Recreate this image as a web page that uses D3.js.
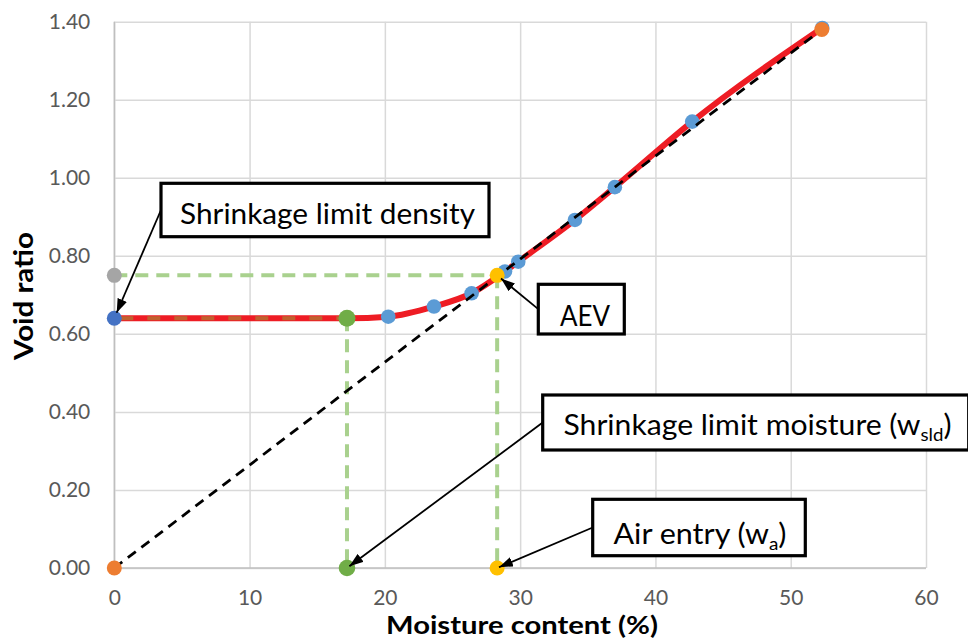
<!DOCTYPE html>
<html>
<head>
<meta charset="utf-8">
<script src="https://cdn.jsdelivr.net/npm/d3@7"></script>
<style>
  html, body { margin: 0; padding: 0; background: #fff; }
  svg { display: block; font-family: Lato, "Noto Sans", sans-serif; }
</style>
</head>
<body>
<svg id="chart" width="968" height="641"></svg>
<script>
// Shrinkage curve: void ratio against moisture content
const measuredMoisture = [20.25, 23.63, 26.41, 28.88, 29.86, 34.05, 37.0, 42.72, 52.33];
const measuredVoid     = [0.644, 0.670, 0.704, 0.760, 0.785, 0.892, 0.976, 1.144, 1.384];

// fitted shrinkage curve (flat residual zone, then normal shrinkage)
const fitMoisture = [0, 17.2, 20.25, 23.63, 26.41, 28.88, 29.86, 34.05, 37.0, 42.72, 52.33];
const fitVoid     = [0.64, 0.64, 0.644, 0.670, 0.704, 0.760, 0.785, 0.892, 0.976, 1.144, 1.384];

// 100% saturation line (origin to the initial state)
const saturationMoisture = [0, 52.3];
const saturationVoid     = [0, 1.38];

// characteristic points
const shrinkageLimitMoisture = 17.2;
const shrinkageLimitVoid = 0.64;
const airEntryMoisture = 28.3;
const airEntryVoid = 0.75;

const xTicks = [0, 10, 20, 30, 40, 50, 60];
const yTicks = [0, 0.2, 0.4, 0.6, 0.8, 1.0, 1.2, 1.4];

const svg = d3.select("#chart");
const m = { left: 114.3, right: 926, top: 21.7, bottom: 568 };
const x = d3.scaleLinear().domain([0, 60]).range([m.left, m.right]);
const y = d3.scaleLinear().domain([0, 1.4]).range([m.bottom, m.top]);

// gridlines
svg.append("g").attr("transform", `translate(0,${m.bottom})`)
  .call(d3.axisBottom(x).tickValues(xTicks).tickSize(-(m.bottom - m.top)).tickFormat(""))
  .call(g => g.select(".domain").remove())
  .call(g => g.selectAll("line").attr("stroke", "#d9d9d9").attr("stroke-width", 1.5));
svg.append("g").attr("transform", `translate(${m.left},0)`)
  .call(d3.axisLeft(y).tickValues(yTicks).tickSize(-(m.right - m.left)).tickFormat(""))
  .call(g => g.select(".domain").remove())
  .call(g => g.selectAll("line").attr("stroke", "#d9d9d9").attr("stroke-width", 1.5));

// axis lines
svg.append("line").attr("x1", x(0)).attr("x2", x(0)).attr("y1", y(0)).attr("y2", y(1.4))
  .attr("stroke", "#bfbfbf").attr("stroke-width", 1.5);
svg.append("line").attr("x1", x(0)).attr("x2", x(60)).attr("y1", y(0)).attr("y2", y(0))
  .attr("stroke", "#bfbfbf").attr("stroke-width", 1.5);

// tick labels
svg.append("g").attr("transform", `translate(${m.left},0)`)
  .call(d3.axisLeft(y).tickValues(yTicks).tickSize(0).tickPadding(24).tickFormat(d3.format(".2f")))
  .call(g => g.select(".domain").remove())
  .call(g => g.selectAll("text").attr("fill", "#595959").attr("font-size", 21).attr("font-family", "Lato, sans-serif"));
svg.append("g").attr("transform", `translate(0,${m.bottom})`)
  .call(d3.axisBottom(x).tickValues(xTicks).tickSize(0).tickPadding(22).tickFormat(d3.format("d")))
  .call(g => g.select(".domain").remove())
  .call(g => g.selectAll("text").attr("fill", "#595959").attr("font-size", 21).attr("font-family", "Lato, sans-serif"));

// axis titles
svg.append("text").attr("x", 522).attr("y", 634).attr("text-anchor", "middle")
  .attr("font-size", 25).attr("font-weight", "bold").attr("fill", "#000")
  .attr("textLength", 272).attr("lengthAdjust", "spacingAndGlyphs")
  .text("Moisture content (%)");
svg.append("text").attr("transform", "translate(33,296) rotate(-90)").attr("text-anchor", "middle")
  .attr("font-size", 27).attr("font-weight", "bold").attr("fill", "#000")
  .attr("textLength", 128).attr("lengthAdjust", "spacingAndGlyphs")
  .text("Void ratio");

// guide lines (light green dashed)
const guide = svg.append("g").attr("stroke", "#a9d18e").attr("stroke-width", 4)
  .attr("stroke-dasharray", "13 8").attr("fill", "none");
guide.append("line").attr("x1", x(0)).attr("x2", x(airEntryMoisture))
  .attr("y1", y(airEntryVoid)).attr("y2", y(airEntryVoid));
guide.append("line").attr("x1", x(shrinkageLimitMoisture)).attr("x2", x(shrinkageLimitMoisture))
  .attr("y1", y(shrinkageLimitVoid)).attr("y2", y(0));
guide.append("line").attr("x1", x(airEntryMoisture)).attr("x2", x(airEntryMoisture))
  .attr("y1", y(airEntryVoid)).attr("y2", y(0));

// fitted shrinkage curve
const fit = fitMoisture.map((d, i) => [d, fitVoid[i]]);
svg.append("path").datum(fit)
  .attr("d", d3.line().x(d => x(d[0])).y(d => y(d[1])).curve(d3.curveMonotoneX))
  .attr("fill", "none").attr("stroke", "#ee1c24").attr("stroke-width", 6);

// residual shrinkage plateau
svg.append("line").attr("x1", x(0)).attr("x2", x(shrinkageLimitMoisture))
  .attr("y1", y(shrinkageLimitVoid)).attr("y2", y(shrinkageLimitVoid))
  .attr("stroke", "#c0612e").attr("stroke-width", 4).attr("stroke-dasharray", "13 14")
  .attr("stroke-dashoffset", -6);

// measured points
svg.append("g").selectAll("circle")
  .data(measuredMoisture.map((d, i) => [d, measuredVoid[i]]))
  .join("circle").attr("cx", d => x(d[0])).attr("cy", d => y(d[1])).attr("r", 7.3)
  .attr("fill", "#5b9bd5");

// saturation line
const sat = saturationMoisture.map((d, i) => [d, saturationVoid[i]]);
svg.append("path").datum(sat)
  .attr("d", d3.line().x(d => x(d[0])).y(d => y(d[1])))
  .attr("fill", "none").attr("stroke", "#000").attr("stroke-width", 2.8).attr("stroke-dasharray", "10 7");

// characteristic markers
const markers = [
  { mx: 0, my: airEntryVoid, color: "#a5a5a5", r: 7.5 },
  { mx: 0, my: shrinkageLimitVoid, color: "#4472c4", r: 7.5 },
  { mx: saturationMoisture[0], my: saturationVoid[0], color: "#ed7d31", r: 7.5 },
  { mx: saturationMoisture[1], my: saturationVoid[1], color: "#ed7d31", r: 7.5 },
  { mx: shrinkageLimitMoisture, my: shrinkageLimitVoid, color: "#70ad47", r: 8.5 },
  { mx: shrinkageLimitMoisture, my: 0, color: "#70ad47", r: 8.3 },
  { mx: airEntryMoisture, my: airEntryVoid, color: "#ffc000", r: 7.5 },
  { mx: airEntryMoisture, my: 0, color: "#ffc000", r: 7.5 }
];
svg.append("g").selectAll("circle").data(markers).join("circle")
  .attr("cx", d => x(d.mx)).attr("cy", d => y(d.my)).attr("r", d => d.r).attr("fill", d => d.color);

// callouts
svg.append("defs").append("marker").attr("id", "head")
  .attr("viewBox", "0 0 14 10").attr("refX", 14).attr("refY", 5)
  .attr("markerWidth", 14).attr("markerHeight", 10).attr("markerUnits", "userSpaceOnUse")
  .attr("orient", "auto")
  .append("path").attr("d", "M0,0 L14,5 L0,10 Z").attr("fill", "#000");

const callouts = [
  { box: [161, 183.3, 328, 53.4], tx: 180, tw: 295, base: 223.5, fs: 29,
    parts: [["Shrinkage limit density"]], target: [0, shrinkageLimitVoid], gap: 6 },
  { box: [538.3, 284.3, 86, 49.7], tx: 560, tw: 50, base: 326, fs: 29,
    parts: [["AEV"]], target: [airEntryMoisture, airEntryVoid], gap: 5 },
  { box: [542.7, 395, 426, 55], tx: 563.5, tw: 388, base: 435, fs: 29,
    parts: [["Shrinkage limit moisture (w"], ["sld", "sub"], [")"]], target: [shrinkageLimitMoisture, 0], gap: 3 },
  { box: [592.7, 499.3, 212.6, 56.4], tx: 613.5, tw: 173, base: 543.5, fs: 29,
    parts: [["Air entry (w"], ["a", "sub"], [")"]], target: [airEntryMoisture, 0], gap: 2 }
];

callouts.forEach(c => {
  const [bx, by, bw, bh] = c.box;
  const sx = bx, sy = by + bh / 2;
  const px = x(c.target[0]), py = y(c.target[1]);
  const dx = sx - px, dy = sy - py, len = Math.hypot(dx, dy);
  svg.append("line").attr("x1", sx).attr("y1", sy)
    .attr("x2", px + dx / len * c.gap).attr("y2", py + dy / len * c.gap)
    .attr("stroke", "#000").attr("stroke-width", 1.8).attr("marker-end", "url(#head)");
  svg.append("rect").attr("x", bx).attr("y", by).attr("width", bw).attr("height", bh)
    .attr("fill", "#fff").attr("stroke", "#000").attr("stroke-width", 3.2);
  const t = svg.append("text").attr("x", c.tx).attr("y", c.base)
    .attr("font-size", c.fs).attr("fill", "#000")
    .attr("textLength", c.tw).attr("lengthAdjust", "spacingAndGlyphs");
  c.parts.forEach(([s, kind]) => {
    const sp = t.append("tspan").text(s);
    if (kind === "sub") sp.attr("font-size", c.fs * 0.62).attr("dy", 6);
    else if (t.selectAll("tspan").size() > 1) sp.attr("dy", -6);
  });
});
</script>
</body>
</html>
